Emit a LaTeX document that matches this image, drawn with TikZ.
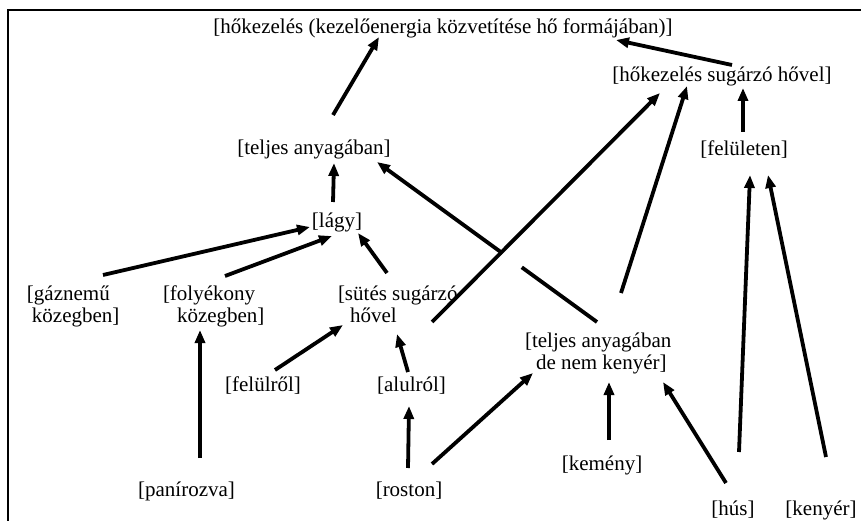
\documentclass[tikz,border=0pt]{standalone}
\usepackage{fontspec}
\setmainfont{Liberation Serif}
\usetikzlibrary{arrows.meta,calc}
\begin{document}
\begin{tikzpicture}[x=1pt,y=-1pt,
  lbl/.style={inner sep=0pt, outer sep=0pt, font=\fontsize{21}{22}\selectfont, anchor=base},
  lbl2/.style={lbl, anchor=north west, align=left},
  arr/.style={line width=3.8pt, -{Triangle[length=13pt,width=10pt]}},
]
\useasboundingbox (0,0) rectangle (861,521);
% frame (only its top and left sides fall inside the page)
\draw[line width=2.5pt] (8,521) -- (8,10) -- (861,10);

% labels
\node[lbl] (top) at (443,34) {[hőkezelés (kezelőenergia közvetítése hő formájában)]};
\node[lbl] (hsh) at (722,82) {[hőkezelés sugárzó hővel]};
\node[lbl] (tel) at (314,155) {[teljes anyagában]};
\node[lbl] (fel) at (744,156) {[felületen]};
\node[lbl] (lagy) at (337,228) {[lágy]};
\node[lbl2] (gaz) at (27,286) {[gáznemű\\\hspace*{5pt}közegben]};
\node[lbl2] (foly) at (163,286) {[folyékony\\\hspace*{14pt}közegben]};
\node[lbl2] (sut) at (338,286) {[sütés sugárzó\\\hspace*{12pt}hővel};
\node[lbl] (felr) at (263,391) {[felülről]};
\node[lbl] (alr) at (411.5,391) {[alulról]};
\node[lbl2] (tdn) at (525,333) {[teljes anyagában\\\hspace*{11pt}de nem kenyér]};
\node[lbl] (pan) at (186.5,496) {[panírozva]};
\node[lbl] (ros) at (409,496) {[roston]};
\node[lbl] (kem) at (602,470) {[kemény]};
\node[lbl] (hus) at (733,515) {[hús]};
\node[lbl] (ken) at (821,515) {[kenyér]};

% connectors
\draw[arr] ($(tel.base)+(19,-40)$) -- ($(top.base)+(-64,3)$);
\draw[arr] ($(lagy.base)+(-4,-26)$) -- ($(tel.base)+(20,8)$);
\draw[arr] ($(gaz.north west)+(76,-11)$) -- ($(lagy.base)+(-27,-1)$);
\draw[arr] ($(foly.north west)+(62,-10)$) -- ($(lagy.base)+(-5,8)$);
\draw[arr] ($(sut.north west)+(49,-13)$) -- ($(lagy.base)+(21,5)$);
\draw[arr] ($(felr.base)+(12,-21)$) -- ($(sut.north west)+(5,39)$);
\draw[arr] ($(alr.base)+(-3.5,-19)$) -- ($(sut.north west)+(59,48)$);
\draw[arr] ($(pan.base)+(13.5,-38)$) -- ($(foly.north west)+(37,44)$);
\draw[arr] ($(ros.base)+(-1,-28)$) -- ($(alr.base)+(-2.5,15)$);
\draw[arr] ($(ros.base)+(23,-32)$) -- ($(tdn.north west)+(8,40)$);
\draw[arr] ($(kem.base)+(7,-30)$) -- ($(tdn.north west)+(84,49)$);
\draw[arr] ($(hus.base)+(-7,-32)$) -- ($(tdn.north west)+(138,49)$);
\draw[arr] ($(hus.base)+(6,-63)$) -- ($(fel.base)+(6,19)$);
\draw[arr] ($(ken.base)+(5,-58)$) -- ($(fel.base)+(24,19)$);
\draw[arr] ($(fel.base)+(-1,-24)$) -- ($(hsh.base)+(21,6)$);
\draw[arr] ($(hsh.base)+(10,-17)$) -- ($(top.base)+(173,6)$);
\draw[arr] ($(tdn.north west)+(96,-40)$) -- ($(hsh.base)+(-35,4)$);
\draw[arr, dash pattern=on 93pt off 24pt on 400pt] ($(tdn.north west)+(72,-11)$) -- ($(tel.base)+(63,7)$);
\draw[arr] ($(sut.north west)+(94,36)$) -- ($(hsh.base)+(-62,11)$);
\end{tikzpicture}
\end{document}
